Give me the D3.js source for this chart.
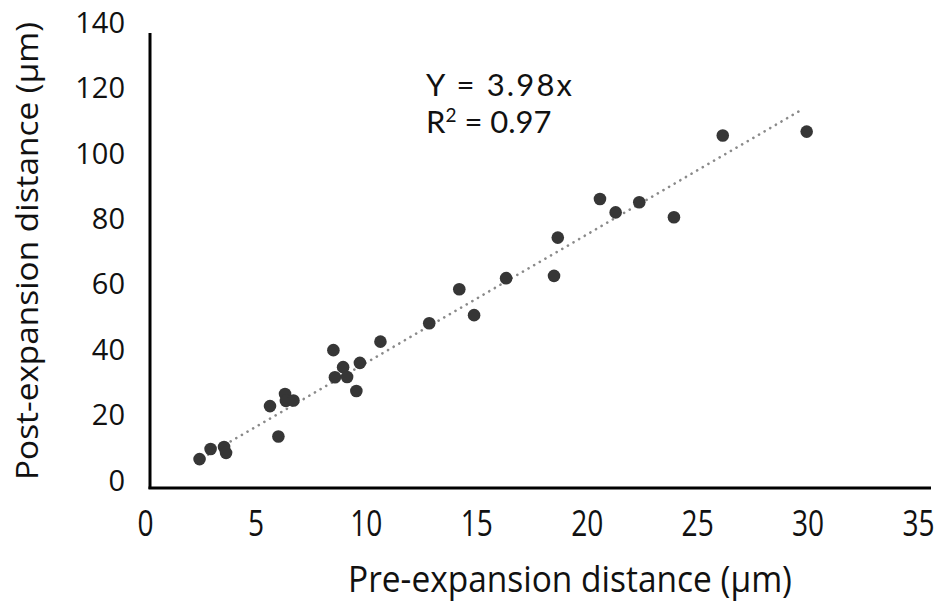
<!DOCTYPE html>
<html lang="en">
    <head>
        <meta charset="utf-8">
        <title>Expansion scatter</title>
        <script src="https://d3js.org/d3.v7.min.js"></script>
        <style type="text/css">
            body { margin: 0; background: #fff; }
            .tick line { display: none; }
            .yaxis text { font-family: "Open Sans", sans-serif; font-size: 29px; fill: #111; }
            .xaxis text { font-family: "Open Sans", sans-serif; font-size: 36px; fill: #111; }
        </style>
    </head>
    <body>
        <script type="text/javascript">

            const w = 943;
            const h = 603;

            // data
            const preDist  = [2.47, 2.97, 3.58, 3.67, 5.66, 6.04, 6.34, 6.38, 6.72, 8.53, 8.97, 8.60, 9.15, 9.57, 9.73, 10.66,
                              12.87, 14.23, 14.90, 16.35, 18.52, 18.69, 20.60, 21.31, 22.38, 23.95, 26.16, 29.96];
            const postDist = [6.7, 9.8, 10.4, 8.6, 22.9, 13.6, 26.6, 24.5, 24.6, 40.0, 34.8, 31.7, 31.8, 27.5, 36.1, 42.6,
                              48.2, 58.6, 50.7, 62.0, 62.7, 74.4, 86.2, 82.1, 85.2, 80.6, 105.6, 106.8];
            const trendX = [2.35, 29.79];
            const trendY = [6.1, 113.7];
            const xTicks = [0, 5, 10, 15, 20, 25, 30, 35];
            const yTicks = [0, 20, 40, 60, 80, 100, 120, 140];

            const points = preDist.map((d, i) => ({x: d, y: postDist[i]}));
            const trend = trendX.map((d, i) => ({x: d, y: trendY[i]}));

            const xScale = d3.scaleLinear()
                             .domain([0, 35])
                             .range([145, 918]);

            const yScale = d3.scaleLinear()
                             .domain([0, 140])
                             .range([481, 23]);

            const svg = d3.select("body")
                          .append("svg")
                          .attr("width", w)
                          .attr("height", h);

            // axis frame
            svg.append("line")
               .attr("x1", 150).attr("x2", 150)
               .attr("y1", 33).attr("y2", 489)
               .attr("stroke", "#000").attr("stroke-width", 3);
            svg.append("line")
               .attr("x1", 148.5).attr("x2", 931)
               .attr("y1", 488).attr("y2", 488)
               .attr("stroke", "#000").attr("stroke-width", 3);

            const bottomAxis = d3.axisBottom(xScale)
                                 .tickValues(xTicks)
                                 .tickSize(0)
                                 .tickPadding(0);

            svg.append("g")
               .attr("class", "xaxis")
               .attr("transform", "translate(0,510)")
               .call(bottomAxis)
               .call(g => g.select(".domain").remove())
               .call(g => g.selectAll(".tick text").attr("transform", "scale(0.78,1)"));

            const leftAxis = d3.axisLeft(yScale)
                               .tickValues(yTicks)
                               .tickSize(0)
                               .tickPadding(0);

            svg.append("g")
               .attr("class", "yaxis")
               .attr("transform", "translate(125,0)")
               .call(leftAxis)
               .call(g => g.select(".domain").remove());

            // trend line
            svg.append("path")
               .datum(trend)
               .attr("d", d3.line().x(d => xScale(d.x)).y(d => yScale(d.y)))
               .attr("fill", "none")
               .attr("stroke", "#8a8a8a")
               .attr("stroke-width", 2.6)
               .attr("stroke-linecap", "round")
               .attr("stroke-dasharray", "0.1,6.4");

            svg.selectAll("circle.pt")
               .data(points)
               .enter()
               .append("circle")
               .attr("class", "pt")
               .attr("cx", d => xScale(d.x))
               .attr("cy", d => yScale(d.y))
               .attr("r", 6.3)
               .attr("fill", "#363636");

            // labels
            svg.append("text")
               .attr("x", 570)
               .attr("y", 592)
               .attr("text-anchor", "middle")
               .attr("textLength", 444)
               .attr("lengthAdjust", "spacingAndGlyphs")
               .style("font-family", "'Open Sans', sans-serif")
               .style("font-size", "36px")
               .style("fill", "#111")
               .text("Pre-expansion distance (μm)");

            svg.append("text")
               .attr("transform", "translate(38,251) rotate(-90)")
               .attr("text-anchor", "middle")
               .attr("textLength", 458)
               .attr("lengthAdjust", "spacingAndGlyphs")
               .style("font-family", "'Open Sans', sans-serif")
               .style("font-size", "31px")
               .style("fill", "#111")
               .text("Post-expansion distance (μm)");

            const eq = svg.append("g")
                          .style("font-family", "Lato, sans-serif")
                          .style("font-size", "31px")
                          .style("fill", "#111");

            eq.append("text")
              .attr("x", 426)
              .attr("y", 96)
              .attr("textLength", 146)
              .text("Y = 3.98x");

            const r2 = eq.append("text")
                         .attr("x", 426)
                         .attr("y", 133);
            r2.append("tspan").text("R");
            r2.append("tspan").attr("dy", -11).style("font-size", "19px").text("2");
            r2.append("tspan").attr("dy", 11).text(" = 0.97");

        </script>
    </body>
</html>
